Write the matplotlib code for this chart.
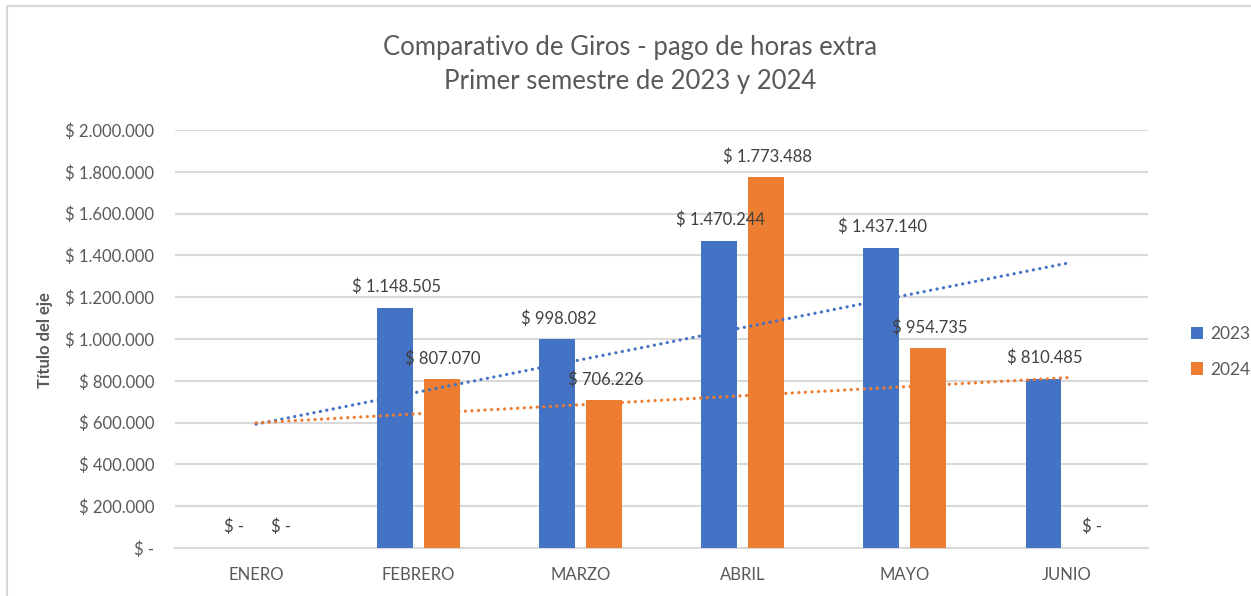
import numpy as np
import matplotlib
matplotlib.use("Agg")
import matplotlib.pyplot as plt
from matplotlib.patches import Rectangle
from matplotlib.ticker import FuncFormatter

meses = ["ENERO", "FEBRERO", "MARZO", "ABRIL", "MAYO", "JUNIO"]
giros_2023 = [0, 1148505, 998082, 1470244, 1437140, 810485]
giros_2024 = [0, 807070, 706226, 1773488, 954735, 0]
series = [("2023", giros_2023, "#4472C4"), ("2024", giros_2024, "#ED7D31")]

gris = "#595959"
plt.rcParams['font.family'] = ['Lato', 'DejaVu Sans']


def pesos(v, pos=None):
    if v == 0:
        return "$ -"
    return "$ " + f"{int(round(v)):,}".replace(",", ".")


fig = plt.figure(figsize=(12.51, 5.96), dpi=100)
ax = fig.add_axes([175 / 1251, 1 - 548 / 596, (1148 - 175) / 1251, (548 - 130) / 596])

# marco del grafico
fig.patches.append(Rectangle((7 / 1251, -0.1), 1.2, 1 - 6 / 596 + 0.1,
                             transform=fig.transFigure, fill=False,
                             edgecolor="#D9D9D9", linewidth=1.5))

x = np.arange(len(meses))
ancho = 0.22
desp = [-0.145, 0.145]

for (nombre, vals, color), d in zip(series, desp):
    ax.bar(x + d, vals, width=ancho, color=color, label=nombre, zorder=3)
    for xi, v in zip(x, vals):
        ax.annotate(pesos(v), (xi + d, v), xytext=(1, 9), textcoords="offset points",
                    ha="center", va="bottom", fontsize=12, color="#404040", zorder=6)
    # linea de tendencia lineal
    xs = x + 1
    m, b = np.polyfit(xs, vals, 1)
    ax.plot(x, m * xs + b, linestyle=(0, (0.05, 2.0)), color=color, linewidth=2.3,
            zorder=4, dash_capstyle="round")

ax.set_xlim(-0.5, len(meses) - 0.5)
ax.set_ylim(0, 2000000)
ax.set_yticks(np.arange(0, 2000001, 200000))
ax.yaxis.set_major_formatter(FuncFormatter(pesos))
ax.set_xticks(x)
ax.set_xticklabels(meses)
ax.grid(axis="y", color="#D9D9D9", linewidth=1.5, zorder=0)
for s in ["top", "right", "left"]:
    ax.spines[s].set_visible(False)
ax.spines["bottom"].set_color("#D9D9D9")
ax.spines["bottom"].set_linewidth(1.5)
ax.tick_params(axis="both", length=0, colors=gris, labelsize=12)
ax.tick_params(axis="y", pad=15)
ax.tick_params(axis="x", pad=14)

fig.text(45 / 1251, 1 - 340 / 596, "Título del eje", rotation=90, ha="center", va="center",
         fontsize=12, color=gris, fontweight="bold")
fig.text(630 / 1251, 1 - 65 / 596, "Comparativo de Giros - pago de horas extra\nPrimer semestre de 2023 y 2024",
         ha="center", va="center", fontsize=18.5, color=gris, linespacing=1.45)

ax.legend(loc="center left", bbox_to_anchor=(1175 / 1251, 1 - 352 / 596), bbox_transform=fig.transFigure,
          frameon=False, fontsize=12.5, labelcolor=gris, handlelength=0.7, handleheight=0.7,
          handletextpad=0.4, labelspacing=1.1)

fig.savefig("out.png", dpi=100)
